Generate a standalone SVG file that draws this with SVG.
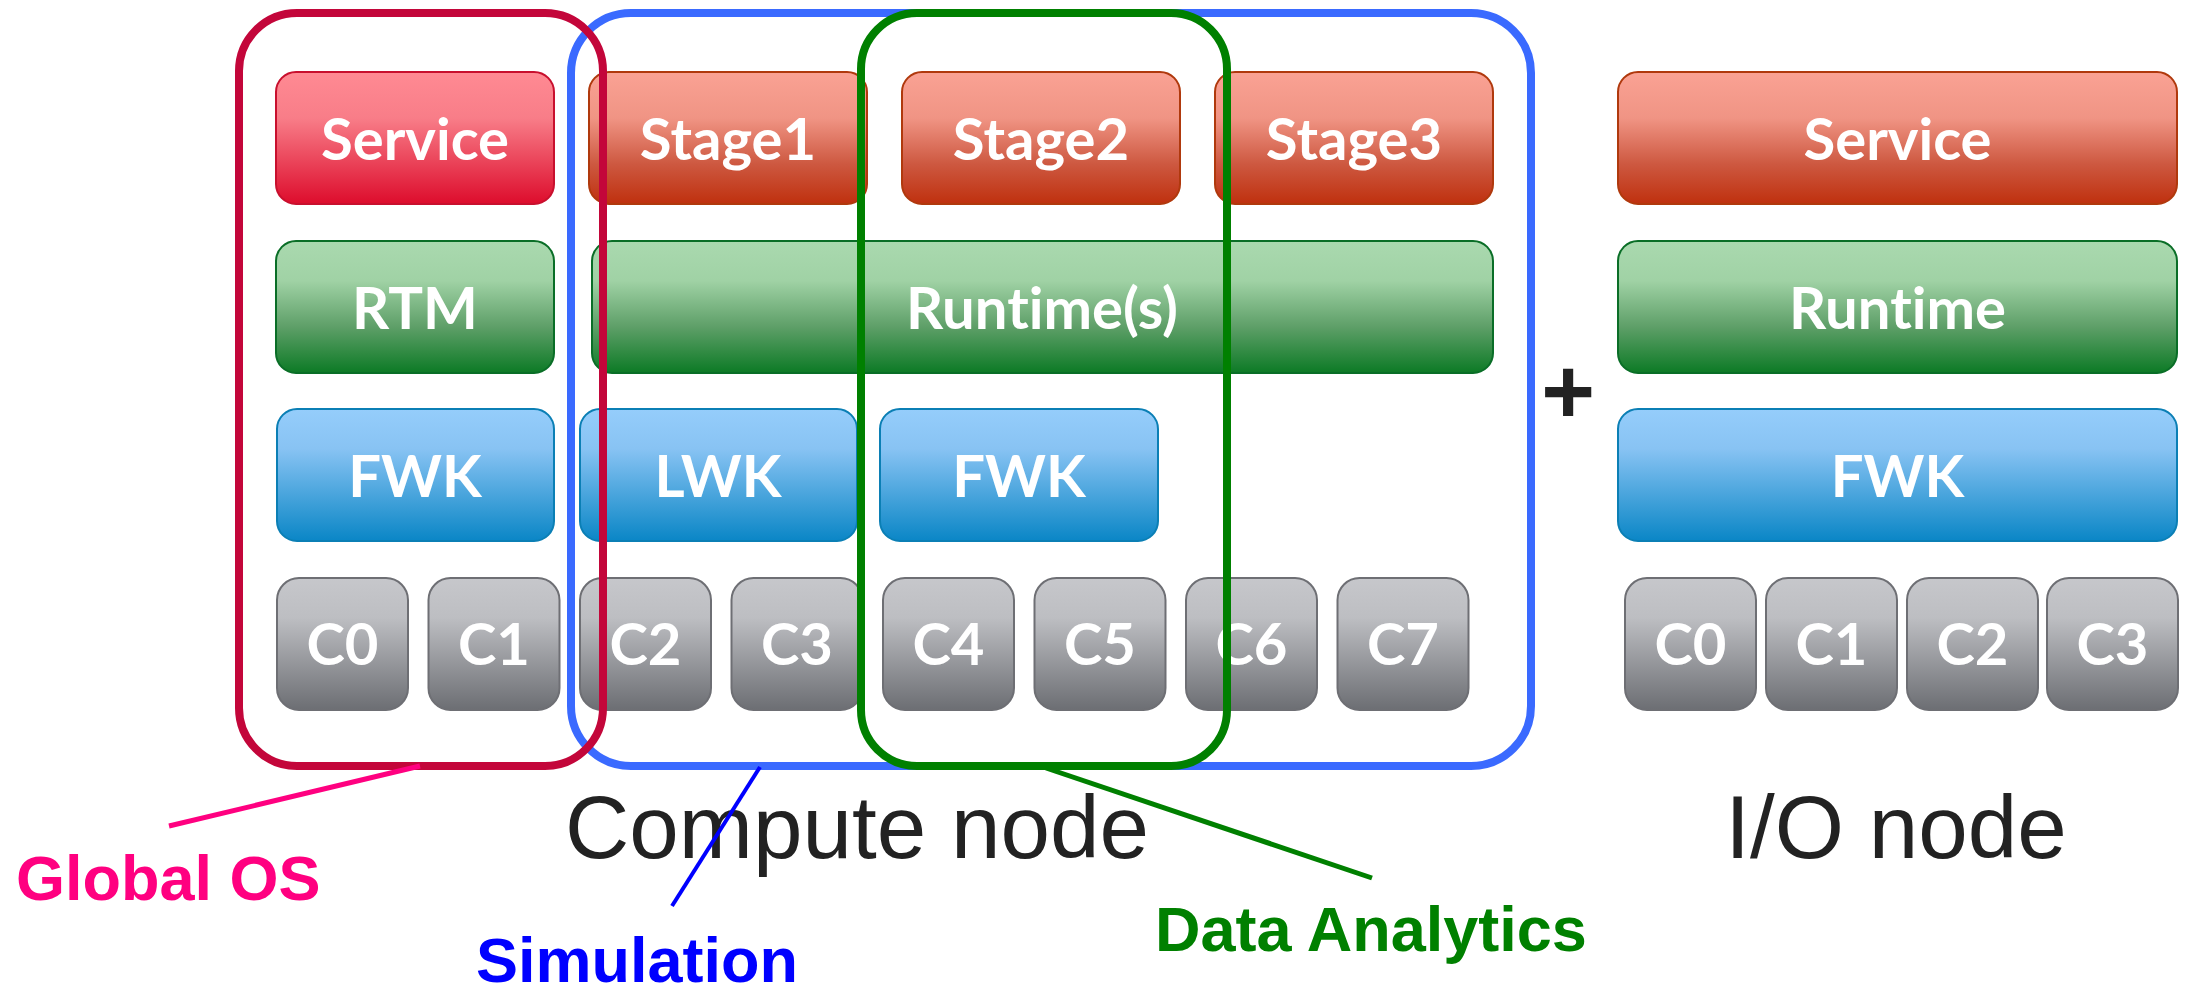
<svg xmlns="http://www.w3.org/2000/svg" width="2190" height="991" viewBox="0 0 2190 991">
<defs>
<linearGradient id="gPink" x1="0" y1="0" x2="0" y2="1"><stop offset="0" stop-color="#FF8A93"/><stop offset="0.35" stop-color="#F87D88"/><stop offset="1" stop-color="#DD0C2C"/></linearGradient>
<linearGradient id="gOrange" x1="0" y1="0" x2="0" y2="1"><stop offset="0" stop-color="#FAA294"/><stop offset="0.35" stop-color="#F09484"/><stop offset="0.7" stop-color="#CD5840"/><stop offset="1" stop-color="#BF300E"/></linearGradient>
<linearGradient id="gGreen" x1="0" y1="0" x2="0" y2="1"><stop offset="0" stop-color="#AAD9AF"/><stop offset="0.3" stop-color="#A0D2A5"/><stop offset="0.65" stop-color="#5E9F68"/><stop offset="1" stop-color="#0C7A25"/></linearGradient>
<linearGradient id="gBlue" x1="0" y1="0" x2="0" y2="1"><stop offset="0" stop-color="#95CDFB"/><stop offset="0.3" stop-color="#88C3F3"/><stop offset="1" stop-color="#0A86C6"/></linearGradient>
<linearGradient id="gGray" x1="0" y1="0" x2="0" y2="1"><stop offset="0" stop-color="#C6C7CB"/><stop offset="0.3" stop-color="#BDBEC2"/><stop offset="1" stop-color="#6C6E73"/></linearGradient>
</defs>
<style>
.pink{fill:url(#gPink);stroke:#C8102E;stroke-width:2}
.orange{fill:url(#gOrange);stroke:#B0390D;stroke-width:2}
.green{fill:url(#gGreen);stroke:#0A6E27;stroke-width:2}
.blue{fill:url(#gBlue);stroke:#0B7FB5;stroke-width:2}
.gray{fill:url(#gGray);stroke:#6E6F74;stroke-width:2}
.lbl{font-family:Lato,"Open Sans",sans-serif;font-weight:bold;font-size:58px;fill:#FFFFFF;text-anchor:middle;font-variant-ligatures:none;font-feature-settings:"liga" 0,"clig" 0}
.big{font-family:"Liberation Sans",Arial,sans-serif;font-size:89px;fill:#222222;text-anchor:middle}
.tag{font-family:"Liberation Sans",Arial,sans-serif;font-weight:bold;font-size:63px}
.outline{fill:none;stroke-width:8}
</style>
<rect width="2190" height="991" fill="#FFFFFF"/>

<g id="global-service"><rect class="pink" x="276" y="72" width="278" height="132" rx="20"/><text class="lbl" x="415" y="160">Service</text></g>
<g id="rtm"><rect class="green" x="276" y="241" width="278" height="132" rx="20"/><text class="lbl" x="415" y="329">RTM</text></g>
<g id="fwk-left"><rect class="blue" x="277" y="409" width="277" height="132" rx="20"/><text class="lbl" x="415" y="497">FWK</text></g>

<g id="stage1"><rect class="orange" x="589" y="72" width="278" height="132" rx="20"/><text class="lbl" x="728" y="160">Stage1</text></g>
<g id="stage2"><rect class="orange" x="902" y="72" width="278" height="132" rx="20"/><text class="lbl" x="1041" y="160">Stage2</text></g>
<g id="stage3"><rect class="orange" x="1215" y="72" width="278" height="132" rx="20"/><text class="lbl" x="1354" y="160">Stage3</text></g>
<g id="runtimes"><rect class="green" x="592" y="241" width="901" height="132" rx="20"/><text class="lbl" x="1042" y="329">Runtime(s)</text></g>
<g id="lwk"><rect class="blue" x="580" y="409" width="277" height="132" rx="20"/><text class="lbl" x="718" y="497">LWK</text></g>
<g id="fwk-mid"><rect class="blue" x="880" y="409" width="278" height="132" rx="20"/><text class="lbl" x="1019" y="497">FWK</text></g>

<g id="core-c0"><rect class="gray" x="277" y="578" width="131" height="132" rx="22"/><text class="lbl" x="342.5" y="665">C0</text></g>
<g id="core-c1"><rect class="gray" x="428.5" y="578" width="131" height="132" rx="22"/><text class="lbl" x="494" y="665">C1</text></g>
<g id="core-c2"><rect class="gray" x="580" y="578" width="131" height="132" rx="22"/><text class="lbl" x="645.5" y="665">C2</text></g>
<g id="core-c3"><rect class="gray" x="731.5" y="578" width="131" height="132" rx="22"/><text class="lbl" x="797" y="665">C3</text></g>
<g id="core-c4"><rect class="gray" x="883" y="578" width="131" height="132" rx="22"/><text class="lbl" x="948.5" y="665">C4</text></g>
<g id="core-c5"><rect class="gray" x="1034.5" y="578" width="131" height="132" rx="22"/><text class="lbl" x="1100" y="665">C5</text></g>
<g id="core-c6"><rect class="gray" x="1186" y="578" width="131" height="132" rx="22"/><text class="lbl" x="1251.5" y="665">C6</text></g>
<g id="core-c7"><rect class="gray" x="1337.5" y="578" width="131" height="132" rx="22"/><text class="lbl" x="1403" y="665">C7</text></g>

<g id="io-service"><rect class="orange" x="1618" y="72" width="559" height="132" rx="20"/><text class="lbl" x="1897.5" y="160">Service</text></g>
<g id="io-runtime"><rect class="green" x="1618" y="241" width="559" height="132" rx="20"/><text class="lbl" x="1897.5" y="329">Runtime</text></g>
<g id="io-fwk"><rect class="blue" x="1618" y="409" width="559" height="132" rx="20"/><text class="lbl" x="1897.5" y="497">FWK</text></g>
<g id="io-c0"><rect class="gray" x="1625" y="578" width="131" height="132" rx="22"/><text class="lbl" x="1690.5" y="665">C0</text></g>
<g id="io-c1"><rect class="gray" x="1766" y="578" width="131" height="132" rx="22"/><text class="lbl" x="1831.5" y="665">C1</text></g>
<g id="io-c2"><rect class="gray" x="1907" y="578" width="131" height="132" rx="22"/><text class="lbl" x="1972.5" y="665">C2</text></g>
<g id="io-c3"><rect class="gray" x="2047" y="578" width="131" height="132" rx="22"/><text class="lbl" x="2112.5" y="665">C3</text></g>

<g id="simulation-outline"><rect class="outline" x="571" y="13" width="960" height="753" rx="60" stroke="#3A6AFF"/></g>
<g id="global-os-outline"><rect class="outline" x="239" y="13" width="364" height="753" rx="58" stroke="#C3063A"/></g>
<g id="analytics-outline"><rect class="outline" x="861" y="13" width="366" height="753" rx="56" stroke="#008000" stroke-width="9"/></g>

<g id="plus"><text x="1568" y="423" font-family="'Liberation Sans',Arial,sans-serif" font-weight="bold" font-size="92" fill="#222222" text-anchor="middle">+</text></g>

<g id="compute-label"><text class="big" x="857" y="858">Compute node</text></g>
<g id="io-label"><text class="big" x="1896" y="858">I/O node</text></g>

<g id="connectors">
<line x1="420" y1="766" x2="169" y2="826" stroke="#FF0080" stroke-width="5"/>
<line x1="760" y1="767" x2="672" y2="906" stroke="#0000FF" stroke-width="4"/>
<line x1="1046" y1="768" x2="1372" y2="878" stroke="#008000" stroke-width="5"/>
</g>

<g id="global-os-tag"><text class="tag" x="16" y="900" fill="#FF0080">Global OS</text></g>
<g id="simulation-tag"><text class="tag" x="476" y="982" fill="#0000FF">Simulation</text></g>
<g id="analytics-tag"><text class="tag" x="1155" y="951" fill="#008000">Data Analytics</text></g>
</svg>
